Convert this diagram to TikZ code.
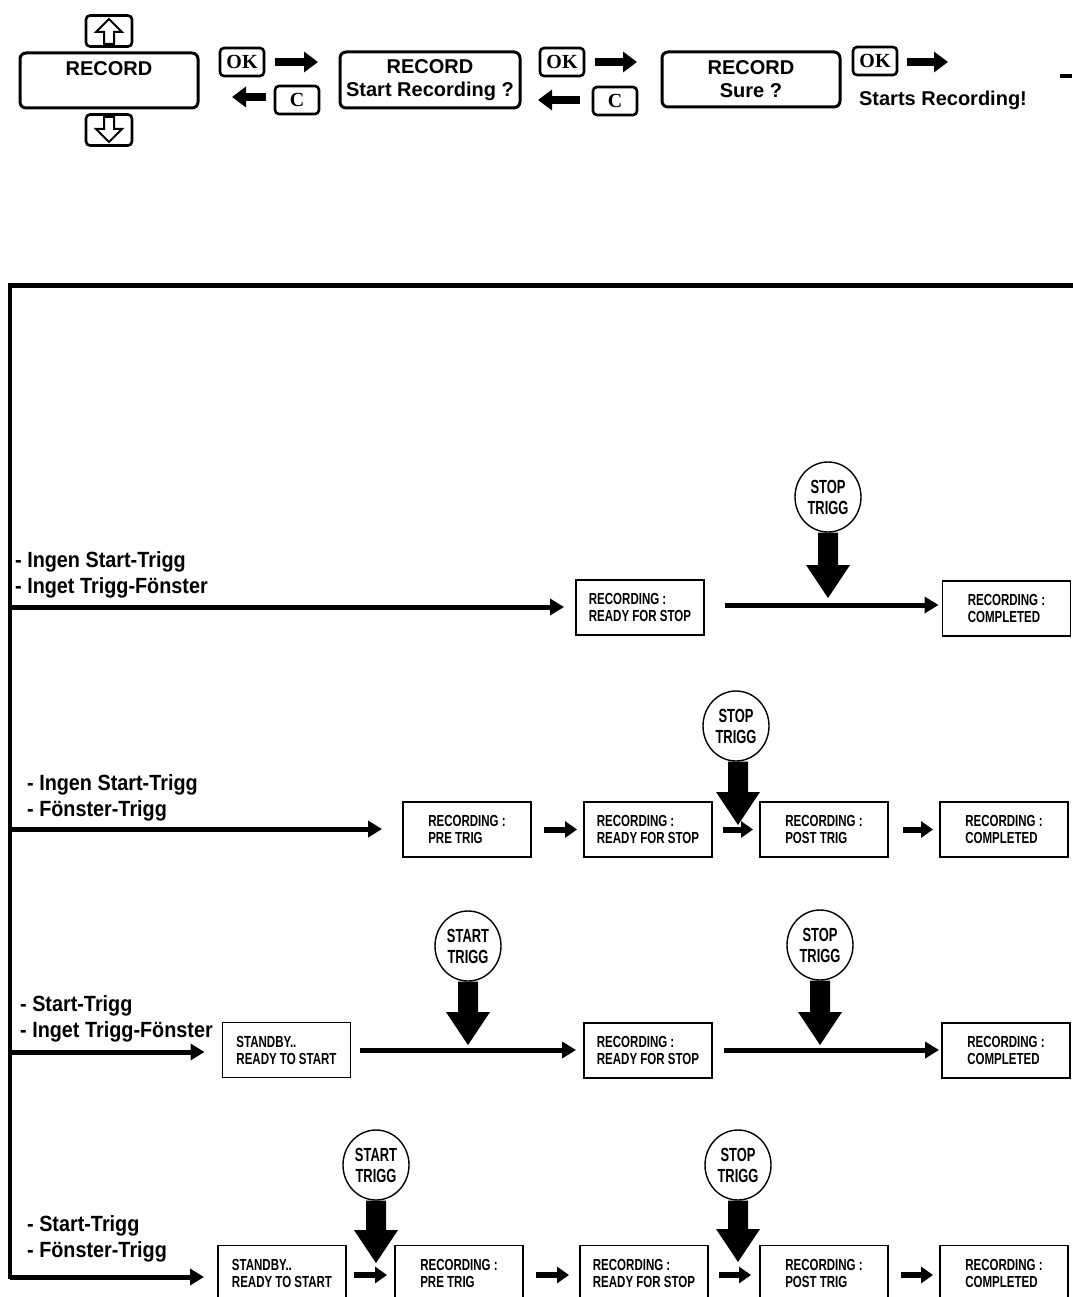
\documentclass[tikz,border=0pt]{standalone}
\usepackage{fontspec}
\setmainfont{Liberation Sans}
\newfontfamily\labf[FakeStretch=0.9]{Liberation Sans}
\newfontfamily\boxf[FakeStretch=0.72]{Liberation Sans}
\newfontfamily\circf[FakeStretch=0.68]{Liberation Sans}
\newfontfamily\keyf{Liberation Serif}
\usetikzlibrary{arrows.meta,calc,shapes.geometric}
\newcommand\trigarrow[2]{\fill let \p1=(#1.south), \p2=(#2) in
  (\x2-10pt,\y1) -- (\x2+10pt,\y1) -- (\x2+10pt,\y2+33pt) -- (\x2+22pt,\y2+33pt)
  -- (\x2,\y2) -- (\x2-22pt,\y2+33pt) -- (\x2-10pt,\y2+33pt) -- cycle;}
\tikzset{
  topbox/.style={draw, line width=3pt, rounded corners=6pt, align=center, inner sep=0pt,
    font=\bfseries\fontsize{20}{23}\selectfont},
  keybox/.style={draw, line width=2.6pt, rounded corners=4pt, minimum width=44pt, minimum height=28pt,
    inner sep=0pt, font=\keyf\bfseries\fontsize{20}{22}\selectfont},
  arrkey/.style={draw, line width=2.6pt, rounded corners=4pt, minimum width=46pt, minimum height=31pt, inner sep=0pt},
  state/.style={draw, line width=1.9pt, minimum width=128pt, minimum height=55pt, align=left, inner sep=0pt,
    font=\boxf\bfseries\fontsize{16}{17}\selectfont},
  trig/.style={draw, ellipse, line width=1.4pt, minimum width=66pt, minimum height=70pt, inner sep=0pt, align=center,
    font=\circf\bfseries\fontsize{19}{21}\selectfont},
  lbl/.style={anchor=west, align=left, inner sep=0pt, font=\labf\bfseries\fontsize{22}{26}\selectfont},
  toparr/.style={line width=8pt, -{Triangle[length=14pt,width=20pt]}},
  flow/.style={line width=5pt, -{Triangle[length=14pt,width=16pt]}},
  smallarr/.style={line width=6pt, -{Triangle[length=12pt,width=16pt]}},
}
\begin{document}
\begin{tikzpicture}[x=1pt,y=-1pt]
\useasboundingbox (0,0) rectangle (1072,1297);
% ---------- top menu ----------
\node[arrkey] (up) at (109,31) {};
\draw[line width=2pt, shift={(up.center)}] (0,-12) -- (13,1) -- (5,1) -- (5,13) -- (-5,13) -- (-5,1) -- (-13,1) -- cycle;
\node[topbox, minimum width=178pt, minimum height=55pt] (rec1) at (109,80.5) {RECORD\\\mbox{}};
\node[arrkey] (down) at (109,130) {};
\draw[line width=2pt, shift={(down.center)}] (0,12) -- (13,-1) -- (5,-1) -- (5,-13) -- (-5,-13) -- (-5,-1) -- (-13,-1) -- cycle;

\node[keybox] (ok1) at (242,62) {OK};
\node[keybox] (c1) at (297,100) {C};
\coordinate (a1s) at (275,62); \coordinate (a1e) at (318,62);
\draw[toparr] (a1s) -- (a1e);
\coordinate (b1s) at (266,97); \coordinate (b1e) at (232,97);
\draw[toparr] (b1s) -- (b1e);

\node[topbox, minimum width=180pt, minimum height=56pt] (rec2) at (430,80) {RECORD\\Start Recording ?};

\node[keybox] (ok2) at (562,62) {OK};
\node[keybox] (c2) at (615,101) {C};
\coordinate (a2s) at (595,62); \coordinate (a2e) at (637,62);
\draw[toparr] (a2s) -- (a2e);
\coordinate (b2s) at (580,100); \coordinate (b2e) at (538,100);
\draw[toparr] (b2s) -- (b2e);

\node[topbox, minimum width=178pt, minimum height=55pt] (rec3) at (751,79.5) {RECORD\\Sure ?};

\node[keybox] (ok3) at (875,61) {OK};
\coordinate (a3s) at (907,62); \coordinate (a3e) at (948,62);
\draw[toparr] (a3s) -- (a3e);
\node[font=\bfseries\fontsize{20}{23}\selectfont, inner sep=0pt] (starts) at (943,100) {Starts Recording!};
\coordinate (d1) at (1060,76); \coordinate (d2) at (1072,76);
\draw[line width=4pt] (d1) -- (d2);

% ---------- frame ----------
\coordinate (ftl) at (10,285); \coordinate (ftr) at (1074,285);
\coordinate (fb) at (10,1279);
\draw[line width=5pt] ($(ftl)+(-2,0)$) -- (ftr);
\draw[line width=4pt] (ftl) -- (fb);

% ---------- row 1 ----------
\node[lbl] (l1) at (15,575) {- Ingen Start-Trigg\\- Inget Trigg-F\"onster};
\node[state] (r1b) at (640,607.5) {RECORDING :\\READY FOR STOP};
\node[state] (r1c) at (1006.5,608.5) {RECORDING :\\COMPLETED};
\node[trig] (s1) at (828,497) {STOP\\TRIGG};
\coordinate (r1o) at (10,607);
\draw[flow] (r1o) -- (r1o -| r1b.west) [shorten >=11pt];
\draw[flow, shorten <=20pt, shorten >=3pt] (r1b.east |- 0,605) -- (r1c.west |- 0,605);
\coordinate (t1) at (828,598);
\trigarrow{s1}{t1}

% ---------- row 2 ----------
\node[lbl] (l2) at (27,798) {- Ingen Start-Trigg\\- F\"onster-Trigg};
\node[state] (r2a) at (467,829.5) {RECORDING :\\PRE TRIG};
\node[state] (r2b) at (648,829.5) {RECORDING :\\READY FOR STOP};
\node[state] (r2c) at (824,829.5) {RECORDING :\\POST TRIG};
\node[state] (r2d) at (1004,829.5) {RECORDING :\\COMPLETED};
\node[trig] (s2) at (736,726) {STOP\\TRIGG};
\coordinate (r2o) at (10,829);
\draw[flow, shorten >=20pt] (r2o) -- (r2o -| r2a.west);
\draw[smallarr, shorten <=12pt, shorten >=6pt] (r2a) -- (r2b);
\draw[smallarr, shorten <=10pt, shorten >=6pt] (r2b) -- (r2c);
\draw[smallarr, shorten <=14pt, shorten >=6pt] (r2c) -- (r2d);
\coordinate (t2) at (738,825);
\trigarrow{s2}{t2}

% ---------- row 3 ----------
\node[lbl] (l3) at (20,1018.5) {- Start-Trigg\\- Inget Trigg-F\"onster};
\node[state] (r3a) at (286.5,1050) {STANDBY..\\READY TO START};
\node[state] (r3b) at (648,1050.5) {RECORDING :\\READY FOR STOP};
\node[state] (r3c) at (1006,1050.5) {RECORDING :\\COMPLETED};
\node[trig] (st3) at (468,946) {START\\TRIGG};
\node[trig] (sp3) at (820,945) {STOP\\TRIGG};
\coordinate (r3o) at (10,1052);
\draw[flow, shorten >=17pt] (r3o) -- (r3o -| r3a.west);
\draw[flow, shorten <=9pt, shorten >=7pt] (r3a.east |- 0,1050) -- (r3b.west |- 0,1050);
\draw[flow, shorten <=11pt, shorten >=2pt] (r3b.east |- 0,1050) -- (r3c.west |- 0,1050);
\coordinate (t3a) at (468,1045);
\coordinate (t3b) at (820,1045);
\trigarrow{st3}{t3a}
\trigarrow{sp3}{t3b}

% ---------- row 4 ----------
\node[lbl] (l4) at (27,1238.5) {- Start-Trigg\\- F\"onster-Trigg};
\node[state] (r4a) at (282,1273) {STANDBY..\\READY TO START};
\node[state] (r4b) at (459,1273) {RECORDING :\\PRE TRIG};
\node[state] (r4c) at (644,1273) {RECORDING :\\READY FOR STOP};
\node[state] (r4d) at (824,1273) {RECORDING :\\POST TRIG};
\node[state] (r4e) at (1004,1273) {RECORDING :\\COMPLETED};
\node[trig] (st4) at (376,1165) {START\\TRIGG};
\node[trig] (sp4) at (738,1165) {STOP\\TRIGG};
\coordinate (r4o) at (10,1277);
\draw[flow, shorten >=13pt] (r4o) -- (r4o -| r4a.west);
\draw[smallarr, shorten <=7pt, shorten >=7pt] (r4a.east |- 0,1275) -- (r4b.west |- 0,1275);
\draw[smallarr, shorten <=12pt, shorten >=10pt] (r4b.east |- 0,1275) -- (r4c.west |- 0,1275);
\draw[smallarr, shorten <=10pt, shorten >=8pt] (r4c.east |- 0,1275) -- (r4d.west |- 0,1275);
\draw[smallarr, shorten <=12pt, shorten >=6pt] (r4d.east |- 0,1275) -- (r4e.west |- 0,1275);
\coordinate (t4a) at (376,1263);
\coordinate (t4b) at (738,1262);
\trigarrow{st4}{t4a}
\trigarrow{sp4}{t4b}
\end{tikzpicture}
\end{document}
